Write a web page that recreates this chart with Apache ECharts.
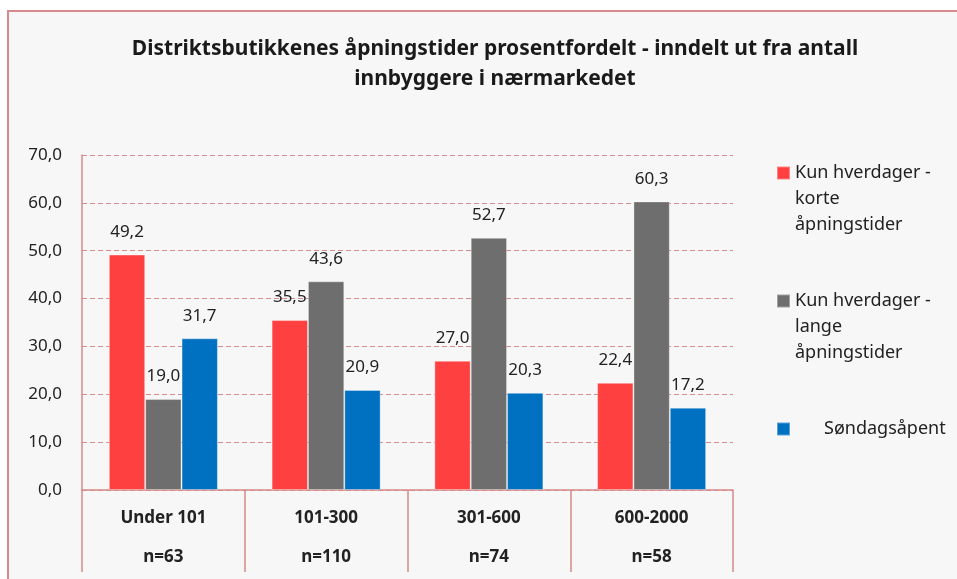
<!DOCTYPE html>
<html><head><meta charset="utf-8">
<script src="https://cdn.jsdelivr.net/npm/echarts@6/dist/echarts.min.js"></script>
<style>html,body{margin:0;padding:0;background:#fff}#c{width:957px;height:579px}</style>
</head><body><div id="c"></div>
<script>
var categories = ['Under 101', '101-300', '301-600', '600-2000'];
var sampleSizes = ['n=63', 'n=110', 'n=74', 'n=58'];
var seriesNames = ['Kun hverdager - korte åpningstider', 'Kun hverdager - lange åpningstider', 'Søndagsåpent'];
var korte = [49.2, 35.5, 27.0, 22.4];
var lange = [19.0, 43.6, 52.7, 60.3];
var sondag = [31.7, 20.9, 20.3, 17.2];
var colors = ['#ff4040', '#6e6e6e', '#0070c0'];
var yTicks = {min: 0, max: 70, interval: 10};

var FONT = '"Noto Sans", sans-serif';
var pink = '#d68a8b';
function fmt(v){ return v.toFixed(1).replace('.', ','); }

var chart = echarts.init(document.getElementById('c'), null, {renderer: 'canvas'});
var values = [korte, lange, sondag];
var legendLabels = {
  'Kun hverdager - korte åpningstider': '\n\nKun hverdager -\nkorte\nåpningstider',
  'Kun hverdager - lange åpningstider': '\n\nKun hverdager -\nlange\nåpningstider',
  'Søndagsåpent': '\n\nSøndagsåpent\n\n'
};
chart.setOption({
  backgroundColor: '#ffffff',
  animation: false,
  graphic: [{
    type: 'rect', z: -10, silent: true,
    shape: {x: 8, y: 11, width: 1000, height: 700},
    style: {fill: '#f7f7f7', stroke: pink, lineWidth: 2}
  }],
  title: {
    text: 'Distriktsbutikkenes åpningstider prosentfordelt - inndelt ut fra antall\ninnbyggere i nærmarkedet',
    left: 490, top: 29, textAlign: 'center',
    textStyle: {fontFamily: FONT, fontWeight: 'bold', fontSize: 21, color: '#1a1a1a', lineHeight: 30}
  },
  legend: {
    orient: 'vertical', left: 776, top: 108, padding: 0,
    itemWidth: 13, itemHeight: 13, itemGap: -2,
    icon: 'rect',
    data: [
      {name: seriesNames[0]},
      {name: seriesNames[1]},
      {name: seriesNames[2], textStyle: {padding: [0, 0, 0, 29]}}
    ],
    formatter: function(n){ return legendLabels[n]; },
    textStyle: {fontFamily: FONT, fontSize: 18, color: '#222', lineHeight: 26}
  },
  grid: {left: 82, right: 224, top: 155, bottom: 89, containLabel: false},
  xAxis: {
    type: 'category', data: categories,
    axisLine: {show: true, lineStyle: {color: pink, width: 1.5}},
    axisTick: {show: true, length: 82, lineStyle: {color: pink, width: 1.5}},
    axisLabel: {
      margin: 9,
      formatter: function(v, i){ return '{a|' + v + '}\n{b|' + sampleSizes[i] + '}'; },
      rich: {
        a: {fontFamily: FONT, fontWeight: 'bold', fontSize: 17, color: '#222', lineHeight: 39},
        b: {fontFamily: FONT, fontWeight: 'bold', fontSize: 17, color: '#222', lineHeight: 39}
      }
    }
  },
  yAxis: {
    type: 'value', min: yTicks.min, max: yTicks.max, interval: yTicks.interval,
    axisLine: {show: true, lineStyle: {color: pink, width: 1.5}},
    axisTick: {show: false},
    axisLabel: {margin: 20, formatter: function(v){ return fmt(v); },
      fontFamily: FONT, fontSize: 17, color: '#222'},
    splitLine: {lineStyle: {color: pink, type: [5, 3], width: 1}}
  },
  series: values.map(function(arr, k){
    return {
      name: seriesNames[k], type: 'bar', data: arr,
      barGap: '0%', barCategoryGap: '33%',
      itemStyle: {color: colors[k], borderColor: 'rgba(255,255,255,0.35)', borderWidth: 1},
      label: {show: true, position: 'top', distance: 14,
        formatter: function(p){ return fmt(p.value); },
        fontFamily: FONT, fontSize: 17, color: '#222'}
    };
  })
});
</script></body></html>
